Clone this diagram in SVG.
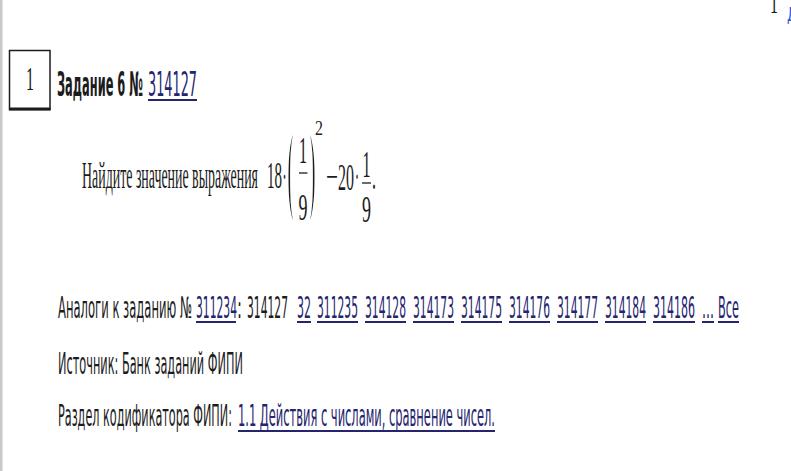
<svg xmlns="http://www.w3.org/2000/svg" width="791" height="471" viewBox="0 0 791 471">
<style>
.sans{font-family:"DejaVu Sans","Liberation Sans",sans-serif;font-size:30px;fill:#1c1c1c}
.bold{font-family:"DejaVu Sans","Liberation Sans",sans-serif;font-size:34px;font-weight:bold;fill:#1c1c1c}
.link{fill:#25256f}
.serif{font-family:"Liberation Serif","Times New Roman",serif;font-size:37px;fill:#1c1c1c}
.paren{font-size:122px;stroke:#ffffff;stroke-width:6}
.ul{stroke:#25256f;stroke-width:2;fill:none}
.bar{stroke:#1c1c1c;stroke-width:1.3;fill:none}
</style>
<rect x="0" y="0" width="791" height="471" fill="#ffffff"/>
<rect x="0" y="0" width="2.5" height="471" fill="#c8c8c8"/>

<g id="corner">
<text class="serif" x="770" y="13" textLength="8" lengthAdjust="spacingAndGlyphs" style="font-size:34px">1</text>
<text class="sans link" x="787" y="21" textLength="10" lengthAdjust="spacingAndGlyphs" style="font-size:20px;fill:#2f4fd8">Д</text>
</g>

<g id="task-number">
<rect x="9.5" y="50.5" width="40.5" height="59" fill="none" stroke="#1c1c1c" stroke-width="1.5"/>
<line x1="9" y1="109" x2="50.5" y2="109" stroke="#1c1c1c" stroke-width="3"/>
<text class="serif" x="26" y="90" textLength="8" lengthAdjust="spacingAndGlyphs" style="font-size:34px">1</text>
</g>

<g id="title">
<text class="bold" x="57" y="96" textLength="86" lengthAdjust="spacingAndGlyphs">Задание 6 №</text>
<text class="sans link" x="148" y="96" textLength="49" lengthAdjust="spacingAndGlyphs" style="font-size:34px">314127</text>
<line class="ul" x1="148" y1="100" x2="197" y2="100"/>
</g>

<g id="problem">
<text class="serif" x="82" y="188" textLength="176" lengthAdjust="spacingAndGlyphs">Найдите значение выражения</text>
<text class="serif" x="267" y="188" textLength="15" lengthAdjust="spacingAndGlyphs">18</text>
<text class="serif" x="282.5" y="189" textLength="4" lengthAdjust="spacingAndGlyphs">·</text>
<text class="serif paren" x="286" y="207" textLength="12" lengthAdjust="spacingAndGlyphs">(</text>
<text class="serif" x="299" y="163" textLength="8" lengthAdjust="spacingAndGlyphs">1</text>
<line class="bar" x1="299" y1="173" x2="307.5" y2="173"/>
<text class="serif" x="298.5" y="220" textLength="9" lengthAdjust="spacingAndGlyphs">9</text>
<text class="serif paren" x="305" y="207" textLength="12" lengthAdjust="spacingAndGlyphs">)</text>
<text class="serif" x="315" y="135" textLength="8" lengthAdjust="spacingAndGlyphs" style="font-size:20px">2</text>
<text class="serif" x="326" y="189" textLength="12" lengthAdjust="spacingAndGlyphs">−</text>
<text class="serif" x="338" y="190" textLength="16" lengthAdjust="spacingAndGlyphs">20</text>
<text class="serif" x="355" y="189" textLength="4" lengthAdjust="spacingAndGlyphs">·</text>
<text class="serif" x="362.5" y="177" textLength="8" lengthAdjust="spacingAndGlyphs">1</text>
<line class="bar" x1="362" y1="183" x2="371" y2="183"/>
<text class="serif" x="362" y="222" textLength="9" lengthAdjust="spacingAndGlyphs">9</text>
<text class="serif" x="372" y="189" textLength="4" lengthAdjust="spacingAndGlyphs">.</text>
</g>

<g id="analogs">
<text class="sans" x="58" y="318" textLength="134" lengthAdjust="spacingAndGlyphs">Аналоги к заданию №</text>
<text class="sans link" x="196" y="318" textLength="41" lengthAdjust="spacingAndGlyphs">311234</text>
<text class="sans" x="237" y="318" textLength="5" lengthAdjust="spacingAndGlyphs">:</text>
<text class="sans" x="247" y="318" textLength="41" lengthAdjust="spacingAndGlyphs">314127</text>
<text class="sans link" x="297" y="318" textLength="14" lengthAdjust="spacingAndGlyphs">32</text>
<text class="sans link" x="317" y="318" textLength="41" lengthAdjust="spacingAndGlyphs">311235</text>
<text class="sans link" x="365" y="318" textLength="41" lengthAdjust="spacingAndGlyphs">314128</text>
<text class="sans link" x="413" y="318" textLength="41" lengthAdjust="spacingAndGlyphs">314173</text>
<text class="sans link" x="461" y="318" textLength="41" lengthAdjust="spacingAndGlyphs">314175</text>
<text class="sans link" x="509" y="318" textLength="41" lengthAdjust="spacingAndGlyphs">314176</text>
<text class="sans link" x="557" y="318" textLength="41" lengthAdjust="spacingAndGlyphs">314177</text>
<text class="sans link" x="605" y="318" textLength="41" lengthAdjust="spacingAndGlyphs">314184</text>
<text class="sans link" x="653" y="318" textLength="42" lengthAdjust="spacingAndGlyphs">314186</text>
<text class="sans link" x="702" y="318" textLength="12" lengthAdjust="spacingAndGlyphs">...</text>
<text class="sans link" x="718" y="318" textLength="21" lengthAdjust="spacingAndGlyphs">Все</text>
<g class="ul">
<line x1="196" y1="322" x2="236" y2="322"/>
<line x1="297" y1="322" x2="311" y2="322"/>
<line x1="317" y1="322" x2="358" y2="322"/>
<line x1="365" y1="322" x2="406" y2="322"/>
<line x1="413" y1="322" x2="454" y2="322"/>
<line x1="461" y1="322" x2="502" y2="322"/>
<line x1="509" y1="322" x2="550" y2="322"/>
<line x1="557" y1="322" x2="598" y2="322"/>
<line x1="605" y1="322" x2="646" y2="322"/>
<line x1="653" y1="322" x2="695" y2="322"/>
<line x1="702" y1="322" x2="714" y2="322"/>
<line x1="718" y1="322" x2="739" y2="322"/>
</g>
</g>

<g id="source">
<text class="sans" x="58" y="374" textLength="185" lengthAdjust="spacingAndGlyphs">Источник: Банк заданий ФИПИ</text>
</g>

<g id="codifier">
<text class="sans" x="58" y="426" textLength="174" lengthAdjust="spacingAndGlyphs">Раздел кодификатора ФИПИ:</text>
<text class="sans link" x="238" y="426" textLength="257" lengthAdjust="spacingAndGlyphs">1.1 Действия с числами, сравнение чисел.</text>
<line class="ul" x1="238" y1="431" x2="495" y2="431"/>
</g>
</svg>
